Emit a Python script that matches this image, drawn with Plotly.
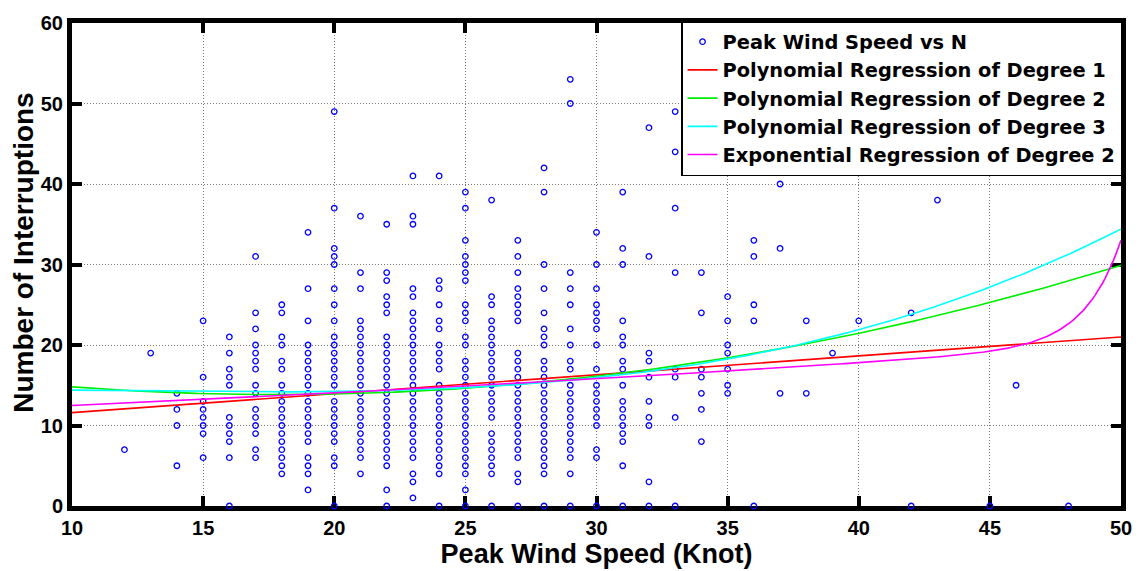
import numpy as np
import plotly.graph_objects as go

# ---------------- data ----------------
wind_speeds = [12, 13, 14, 15, 16, 17, 18, 19, 20, 21, 22, 23, 24, 25, 26, 27, 28,
               29, 30, 31, 32, 33, 34, 35, 36, 37, 38, 39, 40, 42, 43, 45, 46, 48]

interruptions_by_speed = [
    [7],
    [19],
    [14, 12, 10, 5],
    [23, 16, 13, 12, 11, 10, 9, 6],
    [21, 19, 17, 16, 15, 11, 10, 9, 8, 6, 0],
    [31, 24, 22, 20, 19, 18, 17, 15, 14, 12, 11, 10, 9, 7, 6],
    [25, 24, 21, 20, 18, 17, 15, 14, 13, 12, 11, 10, 9, 8, 7, 6, 5, 4],
    [34, 27, 23, 20, 19, 18, 17, 16, 15, 14, 13, 12, 11, 10, 9, 8, 6, 5, 4, 2],
    [49, 37, 32, 31, 30, 27, 25, 23, 21, 20, 19, 18, 17, 16, 15, 13, 12, 11, 10, 9, 8, 6, 5, 0],
    [36, 29, 27, 23, 22, 21, 20, 19, 18, 17, 16, 15, 14, 13, 12, 11, 10, 9, 8, 7, 6, 4],
    [35, 29, 28, 26, 25, 24, 21, 20, 19, 18, 17, 16, 15, 14, 13, 12, 11, 10, 9, 8, 7, 6, 5, 2, 0],
    [41, 36, 35, 27, 26, 24, 23, 22, 21, 20, 19, 18, 17, 16, 15, 14, 13, 12, 11, 10, 9, 8, 7, 6, 4, 3, 1],
    [41, 28, 27, 25, 23, 22, 20, 19, 18, 17, 15, 14, 13, 12, 11, 10, 9, 8, 7, 6, 5, 4, 0],
    [39, 37, 33, 31, 30, 29, 28, 25, 24, 23, 21, 20, 18, 17, 16, 15, 14, 13, 12, 11, 10, 9, 8, 7, 6, 5, 4, 2, 0],
    [38, 26, 25, 23, 22, 21, 20, 19, 18, 17, 16, 15, 14, 13, 12, 11, 9, 8, 7, 6, 5, 4, 0],
    [33, 31, 29, 27, 26, 25, 24, 23, 19, 18, 17, 16, 15, 14, 13, 12, 11, 10, 9, 8, 7, 6, 4, 3, 0],
    [42, 39, 30, 27, 24, 22, 21, 20, 18, 17, 16, 15, 14, 13, 12, 11, 10, 9, 8, 7, 6, 5, 4, 0],
    [53, 50, 29, 27, 25, 22, 20, 18, 17, 15, 14, 13, 12, 11, 10, 9, 8, 7, 6, 4, 0],
    [34, 30, 27, 25, 24, 23, 22, 20, 17, 15, 14, 13, 12, 11, 10, 7, 6, 0],
    [39, 32, 30, 23, 21, 20, 18, 17, 15, 13, 12, 11, 10, 9, 8, 5, 0],
    [47, 31, 19, 18, 16, 13, 11, 10, 3, 0],
    [49, 44, 37, 29, 17, 16, 11, 0],
    [29, 24, 17, 16, 14, 12, 8],
    [26, 23, 20, 19, 17, 15, 14],
    [33, 31, 25, 23, 0],
    [40, 32, 14],
    [23, 14],
    [19],
    [23],
    [24, 0],
    [38],
    [0],
    [15],
    [0],
]

# regression model coefficients (estimated from the drawn curves)
poly1_coefs = [0.2350, 9.25]                               # y = a*x + b
poly2_coefs = [0.015560, -0.556200, 18.80600]              # quadratic
poly3_coefs = [0.000387, -0.013695, 0.122000, 14.16250]    # cubic
exp2_a, exp2_b = 11.1, 0.0118                              # slow term a*exp(b*x)
exp2_c, exp2_d = 13.0, 0.72                                # fast term c*exp(d*(x-50))

x_range = [10, 50]
y_range = [0, 60]
x_ticks = [10, 15, 20, 25, 30, 35, 40, 45, 50]
y_ticks = [0, 10, 20, 30, 40, 50, 60]

legend_names = [
    "Peak Wind Speed vs N",
    "Polynomial Regression of Degree 1",
    "Polynomial Regression of Degree 2",
    "Polynomial Regression of Degree 3",
    "Exponential Regression of Degree 2",
]

# ---------------- build figure ----------------
xs, ys = [], []
for w, vals in zip(wind_speeds, interruptions_by_speed):
    for v in vals:
        xs.append(w)
        ys.append(v)

xc = np.linspace(x_range[0], x_range[1], 400)
curves = [
    np.polyval(poly1_coefs, xc),
    np.polyval(poly2_coefs, xc),
    np.polyval(poly3_coefs, xc),
    exp2_a * np.exp(exp2_b * xc) + exp2_c * np.exp(exp2_d * (xc - 50)),
]
curve_colors = ["#FF0000", "#00EE00", "#00FFFF", "#FF00FF"]

FONT = "Liberation Sans, Arial, Helvetica, sans-serif"
LEGEND_FONT = "DejaVu Sans, Liberation Sans, sans-serif"

fig = go.Figure()
fig.add_trace(go.Scatter(
    x=xs, y=ys, mode="markers", name=legend_names[0],
    marker=dict(symbol="circle-open", size=5.5, color="#0000FF",
                line=dict(width=1.3, color="#0000FF")),
    cliponaxis=False,
))
for name, yc, col in zip(legend_names[1:], curves, curve_colors):
    fig.add_trace(go.Scatter(x=xc, y=yc, mode="lines", name=name,
                             line=dict(color=col, width=1.6)))

axis_common = dict(
    showline=True, linewidth=5, linecolor="black", mirror="allticks",
    ticks="inside", ticklen=10, tickwidth=4, tickcolor="black",
    showgrid=True, gridcolor="#777777", griddash="1px,2px", gridwidth=1,
    zeroline=False, layer="below traces",
    tickfont=dict(family=FONT, size=20, color="black", weight="bold"),
)

fig.update_layout(
    width=1144, height=571,
    margin=dict(l=72, r=16, t=16, b=58),
    paper_bgcolor="white", plot_bgcolor="white",
    xaxis=dict(range=x_range, tickvals=x_ticks, **axis_common,
               title=dict(text="Peak Wind Speed (Knot)", standoff=1,
                          font=dict(family=FONT, size=27, color="black", weight="bold"))),
    yaxis=dict(range=y_range, tickvals=y_ticks, **axis_common),
    legend=dict(
        x=1.001, y=1.004, xanchor="right", yanchor="top",
        bgcolor="white", bordercolor="black", borderwidth=1.5,
        font=dict(family=LEGEND_FONT, size=19.4, color="black", weight="bold"),
        tracegroupgap=0, itemwidth=30,
    ),
    annotations=[dict(
        text="Number of Interruptions", textangle=-90,
        xref="paper", yref="paper", x=-0.0464, y=0.525,
        xanchor="center", yanchor="middle", showarrow=False,
        font=dict(family=FONT, size=28, color="black", weight="bold"),
    )],
    showlegend=True,
)

fig.write_html("out.html")
